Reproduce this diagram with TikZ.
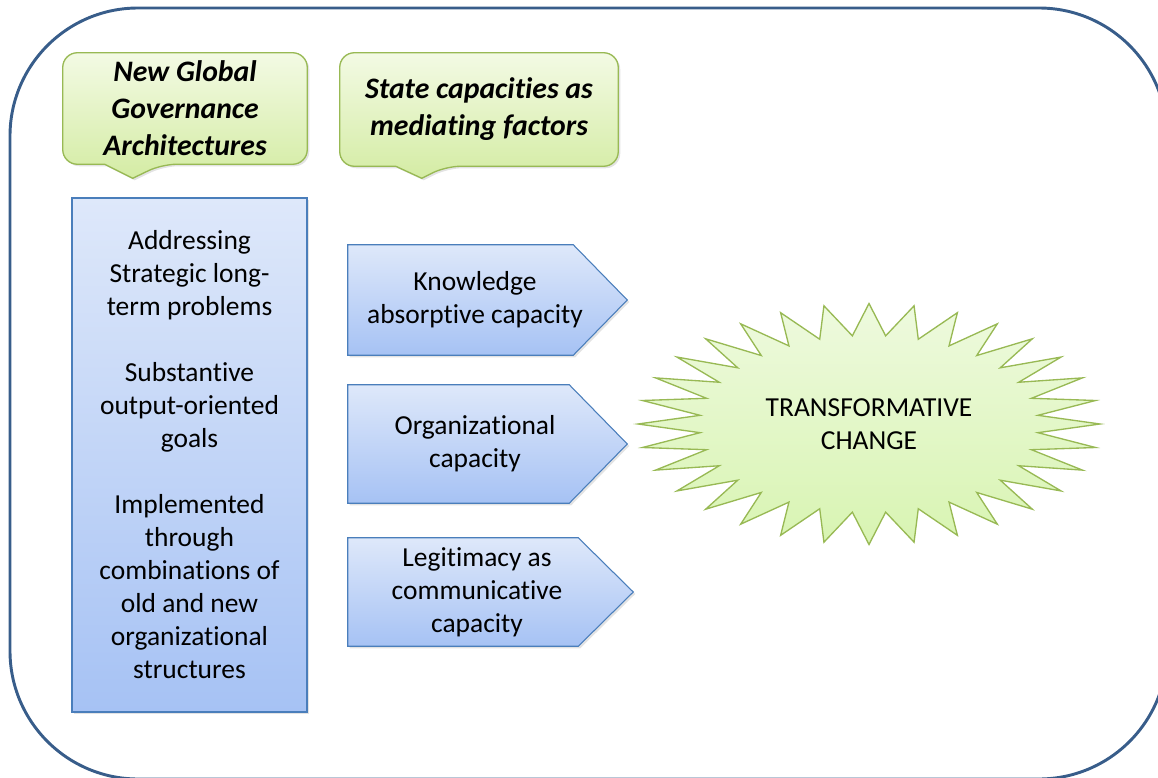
\documentclass[tikz,border=0pt]{standalone}
\usepackage{fontspec}
\setmainfont{Carlito}[Ligatures={NoCommon}]
\usetikzlibrary{calc,backgrounds,shadows}

\definecolor{framecol}{RGB}{56,93,138}
\definecolor{bluedge}{RGB}{74,126,187}
\definecolor{bluetop}{RGB}{222,232,250}
\definecolor{bluebot}{RGB}{166,194,244}
\definecolor{greenedge}{RGB}{152,185,84}
\definecolor{greentop}{RGB}{243,250,228}
\definecolor{greenbot}{RGB}{212,236,164}
\definecolor{bursttop}{RGB}{238,250,222}
\definecolor{burstbot}{RGB}{216,244,178}

\begin{document}
\begin{tikzpicture}[x=0.75pt,y=0.75pt,
  every node/.style={font=\fontsize{20.6}{24.75}\selectfont,align=center,inner sep=0pt},
  softshadow/.style={drop shadow={opacity=0.22,shadow xshift=1.5pt,shadow yshift=-1.5pt}},
  frame/.style={draw=framecol,line width=2.2pt,rounded corners=96pt},
  headbox/.style={draw=greenedge,line width=1pt,top color=greentop,bottom color=greenbot,softshadow},
  headtext/.style={font=\fontsize{22.3}{27.75}\selectfont\bfseries\itshape},
  bluebox/.style={draw=bluedge,line width=0.8pt,top color=bluetop,bottom color=bluebot,softshadow},
  burst/.style={draw=greenedge,line width=1pt,top color=bursttop,bottom color=burstbot}]
\useasboundingbox (0,0) rectangle (1158,-778);

% headings
\node[headtext,minimum width=183pt,minimum height=83.25pt] (gga) at (185,-108.5) {New Global\\Governance\\Architectures};
\node[headtext,minimum width=208.5pt,minimum height=84.75pt] (smf) at (479,-109.5) {State capacities as\\mediating factors};

% features of the architectures
\node[bluebox,minimum width=176.25pt,minimum height=385.5pt] (feat) at (189.5,-455)
  {Addressing\\Strategic long-\\term problems\\[24.75pt]Substantive\\output-oriented\\goals\\[24.75pt]Implemented\\through\\combinations of\\old and new\\organizational\\structures};

% mediating capacities
\node[minimum width=190.5pt,minimum height=82.5pt] (kac) at (475,-300) {Knowledge\\absorptive capacity};
\node[minimum width=190.5pt,minimum height=88.5pt] (orc) at (475,-444) {Organizational\\capacity};
\node[minimum width=193.5pt,minimum height=81pt] (lcc) at (477,-592) {Legitimacy as\\communicative\\capacity};

\node (tc) at (869,-424) {TRANSFORMATIVE\\CHANGE};

\begin{scope}[on background layer]
\draw[frame] (10,-8) rectangle (1167,-779);
\draw[headbox] ($(gga.south west)+(42,0)$) [rounded corners=11pt] -- (gga.south west) -- (gga.north west) -- (gga.north east) -- (gga.south east) -- ($(gga.south west)+(99,0)$) [sharp corners] -- ($(gga.south west)+(70,-14)$) -- cycle;
\draw[headbox] ($(smf.south west)+(56,0)$) [rounded corners=11pt] -- (smf.south west) -- (smf.north west) -- (smf.north east) -- (smf.south east) -- ($(smf.south west)+(106,0)$) [sharp corners] -- ($(smf.south west)+(82,-12)$) -- cycle;
\draw[bluebox] (kac.north west) -- ($(kac.north east)+(-29,0)$) -- ($(kac.east)+(25,0)$) -- ($(kac.south east)+(-29,0)$) -- (kac.south west) -- cycle;
\draw[bluebox] (orc.north west) -- ($(orc.north east)+(-33,0)$) -- ($(orc.east)+(25,0)$) -- ($(orc.south east)+(-33,0)$) -- (orc.south west) -- cycle;
\draw[bluebox] (lcc.north west) -- ($(lcc.north east)+(-28,0)$) -- ($(lcc.east)+(27,0)$) -- ($(lcc.south east)+(-28,0)$) -- (lcc.south west) -- cycle;
% 32 spikes round the centre
\begin{scope}[shift={(tc.center)}]
\draw[burst] plot[samples at={0,...,63},variable=\k]
  ({231*(1-0.265*mod(\k,2))*cos(\k*5.625)},{120.5*(1-0.265*mod(\k,2))*sin(\k*5.625)}) -- cycle;
\end{scope}
\end{scope}
\end{tikzpicture}
\end{document}
